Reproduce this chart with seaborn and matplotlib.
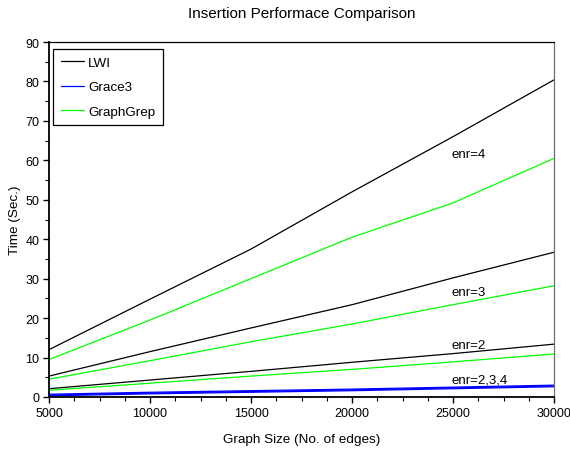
import pandas as pd
import matplotlib
matplotlib.use("Agg")
import matplotlib.pyplot as plt
import seaborn as sns
from matplotlib.ticker import MultipleLocator

# graph sizes (no. of edges)
sizes = [5000, 10000, 15000, 20000, 25000, 30000]

# insertion times (sec.)
lwi_enr4 = [12.0, 24.8, 37.5, 52.0, 66.0, 80.4]
lwi_enr3 = [5.3, 11.5, 17.5, 23.4, 30.2, 36.7]
lwi_enr2 = [2.1, 4.3, 6.5, 8.8, 11.0, 13.4]
gg_enr4 = [9.5, 19.5, 30.0, 40.5, 49.2, 60.5]
gg_enr3 = [4.5, 9.2, 14.0, 18.5, 23.4, 28.2]
gg_enr2 = [1.7, 3.5, 5.3, 7.0, 8.9, 10.9]
grace_enr4 = [0.7, 1.2, 1.6, 2.0, 2.5, 3.0]
grace_enr3 = [0.5, 1.0, 1.4, 1.8, 2.3, 2.8]
grace_enr2 = [0.3, 0.8, 1.2, 1.6, 2.1, 2.6]

series = [
    ("LWI", "4", lwi_enr4), ("LWI", "3", lwi_enr3), ("LWI", "2", lwi_enr2),
    ("Grace3", "4", grace_enr4), ("Grace3", "3", grace_enr3), ("Grace3", "2", grace_enr2),
    ("GraphGrep", "4", gg_enr4), ("GraphGrep", "3", gg_enr3), ("GraphGrep", "2", gg_enr2),
]
rows = []
for method, enr, vals in series:
    for s, v in zip(sizes, vals):
        rows.append({"method": method, "enr": enr, "size": s, "time": v})
df = pd.DataFrame(rows)

sns.set_style("ticks")
plt.rcParams["font.family"] = ["Liberation Sans", "DejaVu Sans"]
for key in ["text.color", "axes.labelcolor", "xtick.color", "ytick.color", "axes.edgecolor"]:
    plt.rcParams[key] = "black"

fig = plt.figure(figsize=(5.7, 4.52), dpi=100)
ax = fig.add_axes([49 / 570, 1 - 398 / 452, 505 / 570, 355 / 452])

palette = {"LWI": "black", "Grace3": "#0000ff", "GraphGrep": "#00ff00"}
sns.lineplot(data=df, x="size", y="time", hue="method", units="enr",
             estimator=None, palette=palette, linewidth=0.9, ax=ax)

ax.set_xlim(5000, 30000)
ax.set_ylim(0, 90)
ax.xaxis.set_major_locator(MultipleLocator(5000))
ax.xaxis.set_minor_locator(MultipleLocator(1250))
ax.yaxis.set_major_locator(MultipleLocator(10))
ax.yaxis.set_minor_locator(MultipleLocator(5))
ax.tick_params(which="major", length=4, width=1, labelsize=9, pad=3)
ax.tick_params(which="minor", length=3, width=0.8)
for side in ["left", "bottom"]:
    ax.spines[side].set_linewidth(1.3)
ax.spines["top"].set_linewidth(0.9)
ax.spines["right"].set_linewidth(0.9)
ax.spines["right"].set_color("#707070")

ax.set_title("Insertion Performace Comparison", fontsize=11, pad=17.8)
ax.set_xlabel("Graph Size (No. of edges)", fontsize=9.7, labelpad=10)
ax.set_ylabel("Time (Sec.)", fontsize=9.7, labelpad=3)

ax.text(24950, 61.6, "enr=4", fontsize=9.5, va="center")
ax.text(24950, 26.6, "enr=3", fontsize=9.5, va="center")
ax.text(24950, 13.3, "enr=2", fontsize=9.5, va="center")
ax.text(24950, 4.4, "enr=2,3,4", fontsize=9.5, va="center")

leg = ax.legend(loc="upper left", fontsize=9.7, fancybox=False, framealpha=1,
                edgecolor="black", borderpad=0.55, labelspacing=0.88,
                handlelength=1.7, handletextpad=0.35, borderaxespad=0,
                bbox_to_anchor=(0.0085, 0.98))
leg.get_frame().set_linewidth(0.9)
for line in leg.get_lines():
    line.set_linewidth(0.9)

fig.savefig("out.png", dpi=100)
